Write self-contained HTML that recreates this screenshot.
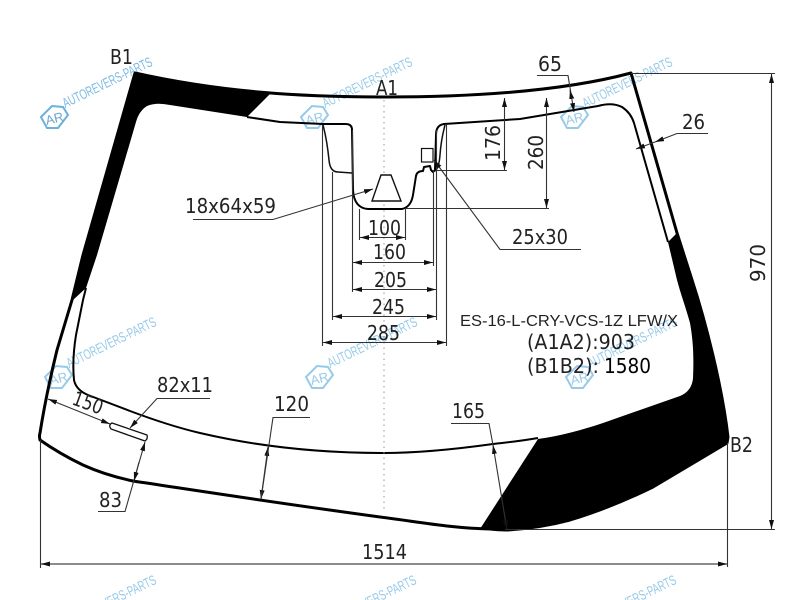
<!DOCTYPE html>
<html><head><meta charset="utf-8"><style>
html,body{margin:0;padding:0;background:#fff}
svg{display:block}
.t{font-family:"DejaVu Sans","Liberation Sans",sans-serif;font-size:20px;fill:#222}
.w{font-family:"Liberation Sans",sans-serif;font-size:14px;fill:#8cc4e6}
.wg{opacity:.9;mix-blend-mode:multiply}
.h{fill:none;stroke:#8cc4e6;stroke-width:2}
.r{font-family:"Liberation Sans",sans-serif;font-size:13px;fill:#8cc4e6}
.d{stroke:#333;stroke-width:1.1;fill:none}
.a{marker-start:url(#ar);marker-end:url(#ar)}
</style></head><body>
<svg width="800" height="600" viewBox="0 0 800 600" xmlns="http://www.w3.org/2000/svg">
<defs>
<marker id="ar" markerUnits="userSpaceOnUse" markerWidth="10" markerHeight="6" refX="9" refY="3" orient="auto-start-reverse"><path d="M0,.5L9,3L0,5.5Z" fill="#111"/></marker>
<clipPath id="glass"><path d="M135,73 C220,92 300,97 384,97 C470,97 560,92 631,73 L677,233 L692,280 C705,320 722,385 728,437 L727,443 L653,487 Q610,508 570,520 Q540,528 507,530 Q498,530 490,529 C450,528 420,522 380,517 C270,502 200,491 133,481 Q105,475 83,465 Q60,454 40,440 Q39,436 40,433 Q46,395 57,350 L72,300 L83,255 Z"/></clipPath>
</defs>

<!-- frit -->
<g clip-path="url(#glass)">
<path d="M60,300 L73,300 L86,288 L97,255 L136,122 Q139,111 147,106 Q156,102 170,105 L247,117 L290,74 L120,40 Z" fill="#000"/>
<path d="M480,529 L538,439 C560,436 582,430 603,423 L680,396 Q692,391 693,378 C694,355 693,340 690,323 C686,308 681,295 677,280 L668,242 L677,233 L720,200 L760,440 L520,560 L480,560 Z" fill="#000"/>
</g>

<!-- outer outline -->
<path d="M135,73 C220,92 300,97 384,97 C470,97 560,92 631,73 L677,233 L692,280 C705,320 722,385 728,437 L727,443 L653,487 Q610,508 570,520 Q540,528 507,530 Q498,530 490,529 C450,528 420,522 380,517 C270,502 200,491 133,481 Q105,475 83,465 Q60,454 40,440 Q39,436 40,433 Q46,395 57,350 L72,300 L83,255 Z" fill="none" stroke="#000" stroke-width="3" stroke-linejoin="round"/>

<!-- inner outline -->
<path d="M538,438 C515,442 500,443 493,444 C450,450 415,453 383,453 C320,453 260,447 200,433 Q170,426 130,411 L88,395 Q76,390 74,380 Q72,360 76,335 L83,300 L86,288" fill="none" stroke="#000" stroke-width="2"/>
<path d="M247,117 L280,122 L323,124 L346,124 Q352,124 352,130 L353,190 Q354,208 368,209 L402,209 Q411,207 413,195 L416,176 Q417,171 423,171 L424,167 L430,166 L431,170 L433,172 L435,170 L436,135 Q436,125 444,124 L520,119 L598,106 Q612,102 622,107 Q631,113 634,123 L668,242" fill="none" stroke="#000" stroke-width="2" stroke-linejoin="round"/>
<path d="M323,125 Q327,140 329,160 Q330,172 338,172 L352,173" fill="none" stroke="#111" stroke-width="1.5"/>
<path d="M445,125 Q441,140 440,155 Q439,168 435,171" fill="none" stroke="#111" stroke-width="1.5"/>

<!-- center dotted -->
<line x1="384" y1="100" x2="384" y2="510" stroke="#999" stroke-width="1" stroke-dasharray="1.5 4"/>

<!-- small shapes -->
<path d="M381,175 H391 L401,201 H372 Z" fill="#fff" stroke="#111" stroke-width="1.4"/>
<rect x="421.500" y="148.500" width="11.500" height="13.500" fill="#fff" stroke="#111" stroke-width="1.2"/>
<path d="M112,423 L147,435 Q148,439 145,441 L111,429 Q108,425 112,423 Z" fill="#fff" stroke="#111" stroke-width="1.3"/>

<!-- extension lines -->
<path class="d" d="M359.500,209V240 M405.500,209V240 M352.500,130V292 M433.500,170V266 M436.500,130V320 M322.500,125V346 M332.500,172V320 M446.500,125V346"/>
<path class="d" d="M436,170.500H507 M405,208.500H549 M631,73.500H775 M505,529.500H775 M40.500,440V568 M727.500,443V567"/>

<!-- dimension arrows -->
<line class="d a" x1="360" y1="237.500" x2="405" y2="237.500"/>
<line class="d a" x1="353" y1="262.500" x2="433" y2="262.500"/>
<line class="d a" x1="353" y1="289.500" x2="436" y2="289.500"/>
<line class="d a" x1="333" y1="316.500" x2="436" y2="316.500"/>
<line class="d a" x1="323" y1="342.500" x2="446" y2="342.500"/>
<line class="d a" x1="504.500" y1="98" x2="504.500" y2="170"/>
<line class="d a" x1="546.500" y1="98" x2="546.500" y2="208"/>
<line class="d a" x1="771.500" y1="74" x2="771.500" y2="529"/>
<line x1="41" y1="564" x2="727" y2="564" stroke="#666" stroke-width="1.6" class="a"/>
<line class="d a" x1="48" y1="399" x2="110" y2="424"/>
<line class="d a" x1="268" y1="447" x2="261" y2="499"/>
<line class="d a" x1="493" y1="445" x2="507" y2="530"/>

<!-- leaders -->
<path class="d" d="M537,75.500H568L574,112" style="marker-end:url(#ar)"/>
<line class="d" x1="571" y1="95" x2="570" y2="90" style="marker-end:url(#ar)"/>
<path class="d" d="M708,133.500H677L655,142" style="marker-end:url(#ar)"/>
<line class="d" x1="655" y1="142" x2="636" y2="149" style="marker-end:url(#ar)"/>
<path class="d" d="M193,219.500H273L373,189" style="marker-end:url(#ar)"/>
<path class="d" d="M581,249.500H500L434,160" style="marker-end:url(#ar)"/>
<path class="d" d="M210,398.500H157L130,428" style="marker-end:url(#ar)"/>
<path class="d" d="M98,511.500H125L145,442" style="marker-end:url(#ar)"/>
<line class="d" x1="139" y1="462" x2="134" y2="481" style="marker-end:url(#ar)"/>
<path class="d" d="M310,417.500H273L261,499"/>
<path class="d" d="M451,423.500H489L493,445"/>

<!-- labels -->
<text class="t" x="110" y="64" textLength="23" lengthAdjust="spacingAndGlyphs">B1</text>
<text class="t" x="376" y="95" textLength="22" lengthAdjust="spacingAndGlyphs">A1</text>
<text class="t" x="538" y="71" textLength="24" lengthAdjust="spacingAndGlyphs">65</text>
<text class="t" x="682" y="129" textLength="23" lengthAdjust="spacingAndGlyphs">26</text>
<text class="t" transform="translate(500,161) rotate(-90)" textLength="36" lengthAdjust="spacingAndGlyphs">176</text>
<text class="t" transform="translate(543,170) rotate(-90)" textLength="35" lengthAdjust="spacingAndGlyphs">260</text>
<text class="t" transform="translate(765,282) rotate(-90)" textLength="38" lengthAdjust="spacingAndGlyphs">970</text>
<text class="t" x="185" y="213" textLength="91" lengthAdjust="spacingAndGlyphs">18x64x59</text>
<text class="t" x="512" y="244" textLength="56" lengthAdjust="spacingAndGlyphs">25x30</text>
<text class="t" x="368" y="235" textLength="33" lengthAdjust="spacingAndGlyphs">100</text>
<text class="t" x="373" y="259" textLength="33" lengthAdjust="spacingAndGlyphs">160</text>
<text class="t" x="374" y="287" textLength="33" lengthAdjust="spacingAndGlyphs">205</text>
<text class="t" x="372" y="314" textLength="33" lengthAdjust="spacingAndGlyphs">245</text>
<text class="t" x="367" y="340" textLength="33" lengthAdjust="spacingAndGlyphs">285</text>
<text x="460" y="326" textLength="218" lengthAdjust="spacingAndGlyphs" style="font-family:'Liberation Sans',sans-serif;font-size:16px;fill:#222">ES-16-L-CRY-VCS-1Z LFW/X</text>
<text class="t" x="527" y="349" textLength="108" lengthAdjust="spacingAndGlyphs">(A1A2):903</text>
<text class="t" x="527" y="373" textLength="72" lengthAdjust="spacingAndGlyphs">(B1B2):</text>
<text class="t" x="604" y="373" textLength="47" lengthAdjust="spacingAndGlyphs" style="fill:#000">1580</text>
<text class="t" transform="translate(71,404) rotate(20)" textLength="31" lengthAdjust="spacingAndGlyphs">150</text>
<text class="t" x="157" y="392" textLength="56" lengthAdjust="spacingAndGlyphs">82x11</text>
<text class="t" x="274" y="411" textLength="35" lengthAdjust="spacingAndGlyphs">120</text>
<text class="t" x="99" y="507" textLength="23" lengthAdjust="spacingAndGlyphs">83</text>
<text class="t" x="452" y="418" textLength="33" lengthAdjust="spacingAndGlyphs">165</text>
<text class="t" x="362" y="559" textLength="45" lengthAdjust="spacingAndGlyphs">1514</text>
<text class="t" x="730" y="452" textLength="23" lengthAdjust="spacingAndGlyphs">B2</text>

<!-- watermarks -->
<g class="wg" transform="translate(54,117)"><path class="h" style="stroke:#5aa9d8" d="M-13,0 L-2,-11 L9,-10 L14,-2 L4,11 L-7,11 Z"/><text class="r" x="-9" y="6" transform="rotate(-14)" style="fill:#5a9cc8">AR</text><text class="w" x="14" y="-3" transform="rotate(-26)" textLength="98" lengthAdjust="spacingAndGlyphs" style="fill:#6db3e0">AUTOREVERS-PARTS</text></g>
<g class="wg" transform="translate(314,117)"><path class="h" d="M-13,0 L-2,-11 L9,-10 L14,-2 L4,11 L-7,11 Z"/><text class="r" x="-9" y="6" transform="rotate(-14)">AR</text><text class="w" x="14" y="-3" transform="rotate(-26)" textLength="98" lengthAdjust="spacingAndGlyphs">AUTOREVERS-PARTS</text></g>
<g class="wg" transform="translate(574,117)"><path class="h" d="M-13,0 L-2,-11 L9,-10 L14,-2 L4,11 L-7,11 Z"/><text class="r" x="-9" y="6" transform="rotate(-14)">AR</text><text class="w" x="14" y="-3" transform="rotate(-26)" textLength="98" lengthAdjust="spacingAndGlyphs">AUTOREVERS-PARTS</text></g>
<g class="wg" transform="translate(58,377)"><path class="h" d="M-13,0 L-2,-11 L9,-10 L14,-2 L4,11 L-7,11 Z"/><text class="r" x="-9" y="6" transform="rotate(-14)">AR</text><text class="w" x="14" y="-3" transform="rotate(-26)" textLength="98" lengthAdjust="spacingAndGlyphs">AUTOREVERS-PARTS</text></g>
<g class="wg" transform="translate(319,377)"><path class="h" d="M-13,0 L-2,-11 L9,-10 L14,-2 L4,11 L-7,11 Z"/><text class="r" x="-9" y="6" transform="rotate(-14)">AR</text><text class="w" x="14" y="-3" transform="rotate(-26)" textLength="98" lengthAdjust="spacingAndGlyphs">AUTOREVERS-PARTS</text></g>
<g class="wg" transform="translate(579,377)"><path class="h" d="M-13,0 L-2,-11 L9,-10 L14,-2 L4,11 L-7,11 Z"/><text class="r" x="-9" y="6" transform="rotate(-14)">AR</text><text class="w" x="14" y="-3" transform="rotate(-26)" textLength="98" lengthAdjust="spacingAndGlyphs">AUTOREVERS-PARTS</text></g>
<g class="wg" transform="translate(58,635)"><text class="w" x="14" y="-3" transform="rotate(-26)" textLength="98" lengthAdjust="spacingAndGlyphs">AUTOREVERS-PARTS</text></g>
<g class="wg" transform="translate(318,635)"><text class="w" x="14" y="-3" transform="rotate(-26)" textLength="98" lengthAdjust="spacingAndGlyphs">AUTOREVERS-PARTS</text></g>
<g class="wg" transform="translate(578,635)"><text class="w" x="14" y="-3" transform="rotate(-26)" textLength="98" lengthAdjust="spacingAndGlyphs">AUTOREVERS-PARTS</text></g>
</svg>
</body></html>
